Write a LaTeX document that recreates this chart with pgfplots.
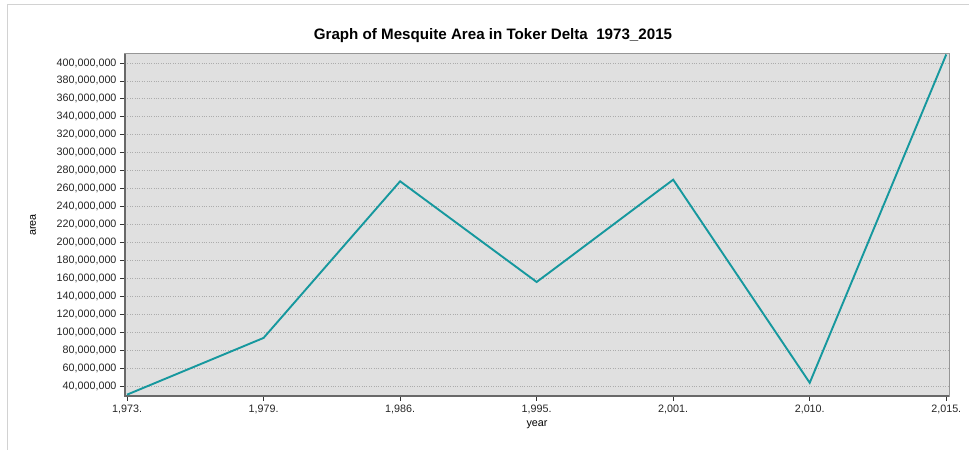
\documentclass[border=0pt]{standalone}
\usepackage{pgfplots}
\pgfplotsset{compat=1.18}
\usepackage{fontspec}
\setmainfont{Liberation Sans}
\definecolor{lineteal}{RGB}{22,152,158}
\definecolor{bggray}{RGB}{224,224,224}
\definecolor{axgray}{RGB}{150,150,150}
\definecolor{axdark}{RGB}{105,105,105}
\begin{document}
\begin{tikzpicture}
\begin{axis}[
  scale only axis, width=824bp, height=342bp,
  xmin=-0.015, xmax=6.02,
  ymin=29000000, ymax=410000000,
  xtick={0,1,2,3,4,5,6},
  xticklabels={{1,973.},{1,979.},{1,986.},{1,995.},{2,001.},{2,010.},{2,015.}},
  ytick={40000000,60000000,80000000,100000000,120000000,140000000,160000000,180000000,200000000,220000000,240000000,260000000,280000000,300000000,320000000,340000000,360000000,380000000,400000000},
  scaled y ticks=false,
  yticklabel style={/pgf/number format/.cd, fixed, precision=0, 1000 sep={,}, assume math mode=true},
  ticklabel style={font=\fontsize{10.8}{12}\selectfont, text=black!85},
  tick align=outside,
  major tick length=5bp,
  tick style={black!80, line width=0.8bp},
  xtick pos=bottom, ytick pos=left,
  ymajorgrids,
  major grid style={dotted, gray!65, line width=0.8bp},
  axis background/.style={fill=bggray},
  axis line style={axgray, line width=1bp},
  xlabel={year}, ylabel={area},
  every axis x label/.style={at={(axis description cs:0.5,-0.0848)}, anchor=center, font=\fontsize{10.8}{12}\selectfont},
  every axis y label/.style={at={(axis description cs:-0.1117,0.5)}, anchor=center, rotate=90, font=\fontsize{10.8}{12}\selectfont},
  clip=false,
]
\draw[axdark, line width=1.6bp] (rel axis cs:0,1) -- (rel axis cs:0,0) -- (rel axis cs:1,0);
\addplot[lineteal, line width=1.9bp, mark=none] coordinates {
  (0,30500000) (1,93700000) (2,268200000) (3,156000000) (4,270000000) (5,43700000) (6,409500000)
};
\coordinate (O) at (rel axis cs:0,0);
\end{axis}
\pgfresetboundingbox
\useasboundingbox ([shift={(-125bp,-54bp)}]O) rectangle ([shift={(844bp,396bp)}]O);
\draw[gray!35, line width=1bp] ([shift={(-117.5bp,-54bp)}]O) -- ([shift={(-117.5bp,391.5bp)}]O) -- ([shift={(844bp,391.5bp)}]O);
\node[font=\fontsize{15.2}{17}\selectfont\bfseries] at ([shift={(368bp,360bp)}]O) {Graph of Mesquite Area in Toker Delta\ \ 1973\_2015};
\end{tikzpicture}
\end{document}
